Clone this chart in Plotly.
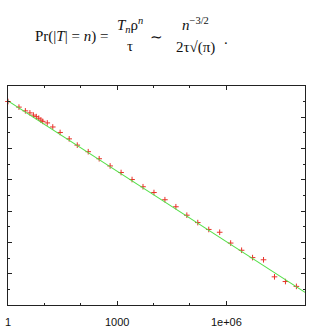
import plotly.graph_objects as go

# ---- data ----
n_vals = [1, 2, 3, 4, 5, 6, 7, 8, 9, 12, 17, 27, 48,
          80, 160, 320, 640, 1280, 2560, 5120, 10240, 20480, 40960, 81920,
          163840, 327680, 655360, 1310720, 2621440, 5242880, 10485760,
          20971520, 41943040, 83886080]
pr_vals = [0.102, 0.0447, 0.0257, 0.0191, 0.0138, 0.0110, 0.00871, 0.00661,
           0.00550, 0.00437, 0.00240, 0.00107, 4.17e-4,
           1.66e-4, 6.31e-5, 2.24e-5, 7.76e-6, 2.95e-6, 1.05e-6, 3.63e-7,
           1.55e-7, 5.37e-8, 1.91e-8, 5.50e-9, 1.86e-9, 6.76e-10, 4.47e-10,
           9.12e-11, 3.16e-11, 1.07e-11, 7.76e-12, 6.31e-13, 3.16e-13, 1.55e-13]
line_n = [1, 1.45e8]
line_pr = [0.112, 6.41e-14]

x_tickvals = [1, 1000, 1e6]
x_ticktext = ["1", "1000", "1e+06"]
x_minor = [10, 100, 1e4, 1e5]
y_tickvals = [10.0 ** -k for k in range(0, 15, 2)]
y_minor = [10.0 ** -k for k in range(1, 15, 2)]

W, H = 311, 334
L, R, T, B = 7.3, 305.7, 86, 317


def px(x):
    return (x - L) / (R - L)


def py(y):
    return (B - y) / (B - T)


fig = go.Figure()
fig.add_trace(go.Scatter(
    x=n_vals, y=pr_vals, mode="markers", cliponaxis=False,
    marker=dict(symbol="cross-thin", size=4, line=dict(color="#e8322a", width=1)),
    showlegend=False))
fig.add_trace(go.Scatter(
    x=line_n, y=line_pr, mode="lines",
    line=dict(color="#55e04a", width=1.1), showlegend=False))

axis_common = dict(showgrid=False, zeroline=False, showline=True, linecolor="#222",
                   linewidth=1, mirror="ticks", ticks="inside", tickcolor="#222",
                   tickwidth=1)
fig.update_xaxes(type="log", range=[0, 8.16], tickvals=x_tickvals, ticktext=x_ticktext,
                 ticklen=4, ticklabelstandoff=7,
                 tickfont=dict(family="Liberation Sans", size=11, color="#111"),
                 minor=dict(tickvals=x_minor, ticks="inside", ticklen=2, tickcolor="#222"),
                 **axis_common)
fig.update_yaxes(type="log", range=[-14, 0], tickvals=y_tickvals, showticklabels=False,
                 ticklen=4,
                 minor=dict(tickvals=y_minor, ticks="inside", ticklen=2, tickcolor="#222"),
                 **axis_common)

serif = dict(family="Liberation Serif", size=15, color="#111")
ann = []


def add(text, x, y, xa="center"):
    ann.append(dict(text=text, x=px(x), y=py(y), xref="paper", yref="paper",
                    xanchor=xa, yanchor="middle", showarrow=False, font=serif))


add("Pr(|<i>T</i>| = <i>n</i>) =", 32, 34, "left")
add("<i>T<sub>n</sub></i>ρ<sup><i>n</i></sup>", 129.5, 22)
add("τ", 129.5, 44)
add("∼", 156, 34)
add("<i>n</i><sup>−3/2</sup>", 196, 21)
add("2τ√(π)", 196, 45)
add(".", 222, 36, "left")

fig.update_layout(width=W, height=H, margin=dict(l=L, r=W - R, t=T, b=H - B),
                  paper_bgcolor="white", plot_bgcolor="white",
                  annotations=ann)
fig.write_html("out.html")
